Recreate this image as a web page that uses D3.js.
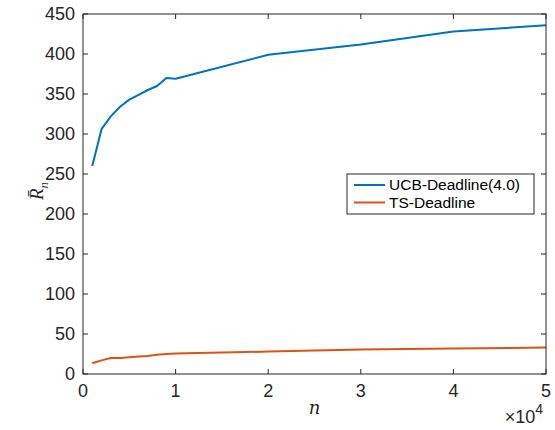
<!DOCTYPE html>
<html>
<head>
<meta charset="utf-8">
<script src="https://cdn.jsdelivr.net/npm/d3@7"></script>
<style>
  body { margin: 0; background: #fff; }
  svg { display: block; font-family: "Liberation Sans", Arial, sans-serif; }
</style>
</head>
<body>
<div id="chart"></div>
<script>
// DATA
const nValues = [1000, 2000, 3000, 4000, 5000, 6000, 7000, 8000, 9000, 10000, 20000, 30000, 40000, 50000];
const ucbValues = [260, 306, 322, 334, 343, 349, 355, 360, 370, 369, 399, 412, 428, 436];
const tsValues = [13.5, 17, 20, 20, 21, 22, 22.5, 24, 25, 25.5, 28, 30.5, 32, 33];
const seriesNames = ["UCB-Deadline(4.0)", "TS-Deadline"];
const seriesColors = ["#0072BD", "#D95319"];
const xTicks = [0, 10000, 20000, 30000, 40000, 50000];
const yTicks = [0, 50, 100, 150, 200, 250, 300, 350, 400, 450];

// LAYOUT
const width = 555, height = 430;
const margin = { left: 83, right: 9, top: 14, bottom: 56 };
const axisColor = "#262626";

const svg = d3.select("#chart").append("svg")
  .attr("width", width)
  .attr("height", height);

const x = d3.scaleLinear().domain([0, 50000]).range([margin.left, width - margin.right]);
const y = d3.scaleLinear().domain([0, 450]).range([height - margin.bottom, margin.top]);

// lines
const line = d3.line().x((d, i) => x(nValues[i])).y(d => y(d));
[ucbValues, tsValues].forEach((vals, i) => {
  svg.append("path")
    .datum(vals)
    .attr("fill", "none")
    .attr("stroke", seriesColors[i])
    .attr("stroke-width", 2)
    .attr("stroke-linejoin", "round")
    .attr("d", line);
});

// axes box
const g = svg.append("g");
g.append("rect")
  .attr("x", x(0)).attr("y", y(450))
  .attr("width", x(50000) - x(0)).attr("height", y(0) - y(450))
  .attr("fill", "none").attr("stroke", axisColor).attr("stroke-width", 1);

// ticks (inside, on both sides)
const tickLen = 5;
xTicks.forEach(t => {
  g.append("line").attr("x1", x(t)).attr("x2", x(t)).attr("y1", y(0)).attr("y2", y(0) - tickLen).attr("stroke", axisColor);
  g.append("line").attr("x1", x(t)).attr("x2", x(t)).attr("y1", y(450)).attr("y2", y(450) + tickLen).attr("stroke", axisColor);
  g.append("text")
    .attr("x", x(t)).attr("y", y(0) + 23)
    .attr("text-anchor", "middle").attr("font-size", 18).attr("fill", axisColor)
    .text(t / 10000);
});
yTicks.forEach(t => {
  g.append("line").attr("x1", x(0)).attr("x2", x(0) + tickLen).attr("y1", y(t)).attr("y2", y(t)).attr("stroke", axisColor);
  g.append("line").attr("x1", x(50000)).attr("x2", x(50000) - tickLen).attr("y1", y(t)).attr("y2", y(t)).attr("stroke", axisColor);
  g.append("text")
    .attr("x", x(0) - 8).attr("y", y(t)).attr("dy", "0.35em")
    .attr("text-anchor", "end").attr("font-size", 18).attr("fill", axisColor)
    .text(t);
});

// exponent label
const expo = g.append("text")
  .attr("x", x(50000) - 3).attr("y", height - 7)
  .attr("text-anchor", "end").attr("font-size", 18).attr("fill", axisColor);
expo.append("tspan").text("×10");
expo.append("tspan").attr("dy", -9).attr("font-size", 14).text("4");

// axis labels
svg.append("text")
  .attr("x", (x(0) + x(50000)) / 2).attr("y", 414)
  .attr("text-anchor", "middle")
  .attr("font-family", "'DejaVu Serif', 'Liberation Serif', serif")
  .attr("font-style", "italic").attr("font-size", 18).attr("fill", axisColor)
  .text("n");

const yl = svg.append("text")
  .attr("transform", `translate(43,${(y(0) + y(450)) / 2 - 3}) rotate(-90)`)
  .attr("text-anchor", "middle")
  .attr("font-family", "'Liberation Serif', serif")
  .attr("font-style", "italic").attr("font-size", 19).attr("fill", axisColor);
yl.append("tspan").text("R\u0304");
yl.append("tspan").attr("dy", 5).attr("font-size", 13).text("n");

// legend
const lg = svg.append("g").attr("transform", "translate(347,174)");
lg.append("rect").attr("width", 187).attr("height", 40)
  .attr("fill", "#fff").attr("stroke", axisColor).attr("stroke-width", 1);
seriesNames.forEach((name, i) => {
  const yy = 11 + i * 17.5;
  lg.append("line").attr("x1", 7).attr("x2", 38).attr("y1", yy).attr("y2", yy)
    .attr("stroke", seriesColors[i]).attr("stroke-width", 2);
  lg.append("text").attr("x", 42).attr("y", yy).attr("dy", "0.35em")
    .attr("font-size", 15.5).attr("fill", "#000").text(name);
});
</script>
</body>
</html>
